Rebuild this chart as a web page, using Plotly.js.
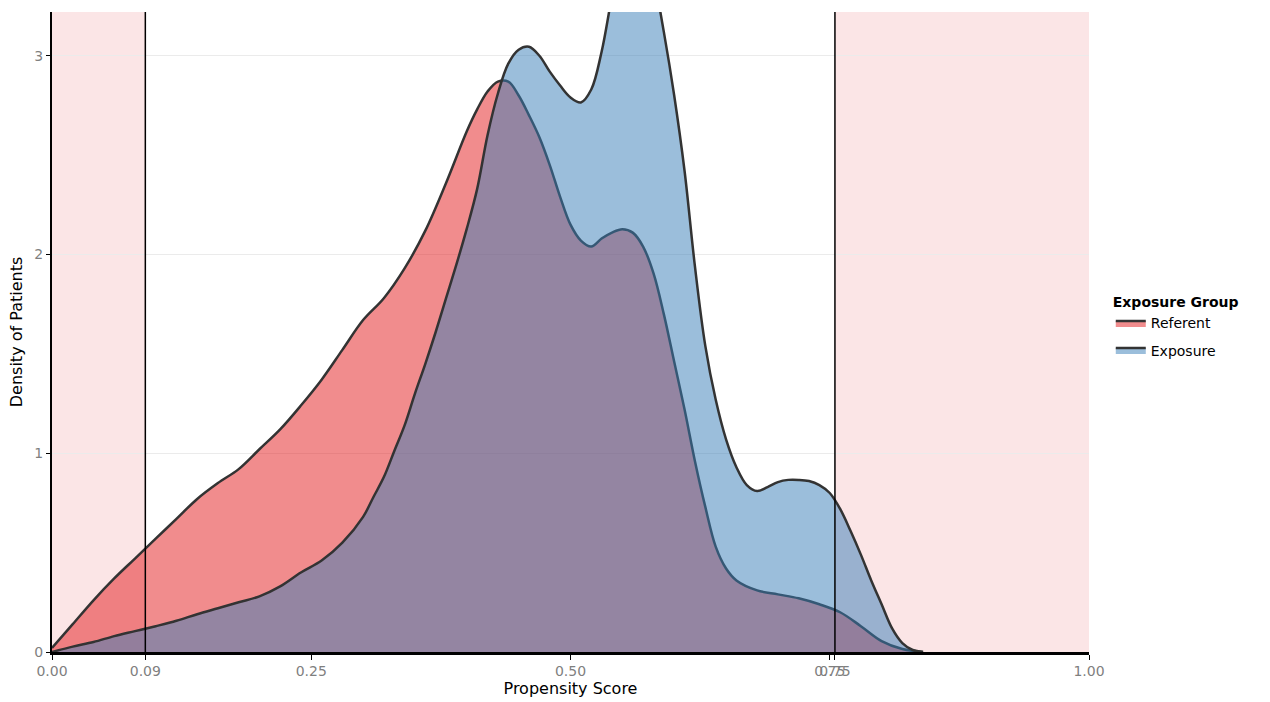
<!DOCTYPE html>
<html>
<head>
<meta charset="utf-8">
<script src="https://cdn.plot.ly/plotly-3.0.1.min.js"></script>
<style>html,body{margin:0;padding:0;background:#fff;}#chart{width:1270px;height:702px;}</style>
</head>
<body>
<div id="chart"></div>
<script>
// Referent group density
const referentX = [0, 0.02, 0.04, 0.06, 0.08, 0.10, 0.12, 0.14, 0.16, 0.18, 0.20, 0.22, 0.24, 0.26, 0.28, 0.30, 0.32, 0.34, 0.36, 0.38, 0.40, 0.41, 0.42, 0.43, 0.44, 0.45, 0.46, 0.47, 0.48, 0.49, 0.50, 0.51, 0.52, 0.53, 0.54, 0.55, 0.56, 0.57, 0.58, 0.59, 0.60, 0.61, 0.62, 0.63, 0.64, 0.65, 0.66, 0.68, 0.70, 0.72, 0.74, 0.76, 0.78, 0.80, 0.82, 0.84];
const referentY = [0.02, 0.14, 0.26, 0.37, 0.47, 0.57, 0.67, 0.77, 0.85, 0.92, 1.02, 1.12, 1.24, 1.37, 1.52, 1.67, 1.78, 1.93, 2.12, 2.36, 2.62, 2.73, 2.82, 2.87, 2.87, 2.80, 2.70, 2.59, 2.45, 2.29, 2.15, 2.07, 2.04, 2.08, 2.11, 2.127, 2.11, 2.04, 1.906, 1.70, 1.46, 1.22, 0.96, 0.73, 0.53, 0.42, 0.36, 0.31, 0.29, 0.27, 0.24, 0.20, 0.13, 0.055, 0.015, 0.0];
// Exposure group density
const exposureX = [0, 0.02, 0.04, 0.06, 0.08, 0.10, 0.12, 0.14, 0.16, 0.18, 0.20, 0.22, 0.24, 0.26, 0.28, 0.30, 0.31, 0.32, 0.33, 0.34, 0.35, 0.36, 0.37, 0.38, 0.39, 0.40, 0.41, 0.42, 0.43, 0.44, 0.45, 0.46, 0.47, 0.48, 0.49, 0.50, 0.51, 0.52, 0.53, 0.54, 0.55, 0.56, 0.57, 0.58, 0.59, 0.60, 0.61, 0.62, 0.63, 0.64, 0.65, 0.66, 0.67, 0.68, 0.69, 0.70, 0.71, 0.72, 0.73, 0.74, 0.75, 0.76, 0.77, 0.78, 0.79, 0.80, 0.81, 0.82, 0.83, 0.84];
const exposureY = [0, 0.027, 0.05, 0.08, 0.105, 0.13, 0.157, 0.19, 0.22, 0.25, 0.28, 0.33, 0.40, 0.46, 0.55, 0.68, 0.78, 0.88, 1.01, 1.14, 1.30, 1.45, 1.61, 1.78, 1.95, 2.13, 2.33, 2.60, 2.81, 2.96, 3.03, 3.045, 3.0, 2.92, 2.85, 2.79, 2.765, 2.83, 3.02, 3.3, 3.55, 3.65, 3.6, 3.4, 3.12, 2.8, 2.42, 1.94, 1.54, 1.27, 1.07, 0.93, 0.84, 0.81, 0.83, 0.855, 0.866, 0.866, 0.86, 0.84, 0.80, 0.72, 0.61, 0.49, 0.36, 0.24, 0.12, 0.045, 0.01, 0.0];

const groupNames = ["Referent", "Exposure"];
const tickVals = [0, 0.09, 0.25, 0.5, 0.75, 0.755, 1];
const tickText = ["0.00", "0.09", "0.25", "0.50", "0.75", "0.75", "1.00"];
const yTicks = [0, 1, 2, 3];
const trimLow = 0.09;
const trimHigh = 0.755;

const font = "DejaVu Sans, sans-serif";

const traces = [
  {x: referentX, y: referentY, name: groupNames[0], legendgroup: "g1", type: "scatter", mode: "lines",
   fill: "tozeroy", fillcolor: "rgba(228,26,28,0.5)",
   line: {color: "#333333", width: 2.5, shape: "spline", smoothing: 1}},
  {x: exposureX, y: exposureY, name: groupNames[1], legendgroup: "g2", type: "scatter", mode: "lines",
   fill: "tozeroy", fillcolor: "rgba(55,126,184,0.5)",
   line: {color: "#333333", width: 2.5, shape: "spline", smoothing: 1}}
];

const layout = {
  width: 1270, height: 702,
  margin: {l: 52, r: 181, t: 12, b: 50},
  paper_bgcolor: "#ffffff", plot_bgcolor: "#ffffff",
  font: {family: font, color: "#000000"},
  showlegend: true,
  legend: {
    x: 1.021, y: 0.567, xanchor: "left", yanchor: "top",
    title: {text: "<b>Exposure Group</b>", font: {size: 14, family: font, color: "#000"}},
    font: {size: 14, family: font, color: "#000"},
    tracegroupgap: 6, itemwidth: 30, bgcolor: "rgba(0,0,0,0)"
  },
  xaxis: {
    range: [0, 1], tickmode: "array", tickvals: tickVals, ticktext: tickText, tickangle: 0,
    showgrid: false, zeroline: false, showline: true, linecolor: "#000", linewidth: 2.5,
    ticks: "outside", ticklen: 5, tickcolor: "#000", tickwidth: 1,
    tickfont: {size: 14, color: "#7f7f7f", family: font},
    title: {text: "Propensity Score", font: {size: 16, family: font, color: "#000"}, standoff: 4},
    automargin: false
  },
  yaxis: {
    range: [0, 3.22], tickmode: "array", tickvals: yTicks,
    showgrid: true, gridcolor: "#ebebeb", gridwidth: 1, zeroline: false,
    showline: true, linecolor: "#000", linewidth: 2,
    ticks: "outside", ticklen: 4, tickcolor: "#000", tickwidth: 1,
    tickfont: {size: 14, color: "#7f7f7f", family: font},
    title: {text: "Density of Patients", font: {size: 16, family: font, color: "#000"}, standoff: 8},
    automargin: false
  },
  shapes: [
    {type: "rect", xref: "x", yref: "paper", x0: 0, x1: trimLow, y0: 0, y1: 1,
     fillcolor: "#fbe5e6", line: {width: 0}, layer: "below"},
    {type: "rect", xref: "x", yref: "paper", x0: trimHigh, x1: 1, y0: 0, y1: 1,
     fillcolor: "#fbe5e6", line: {width: 0}, layer: "below"},
    {type: "line", xref: "x", yref: "paper", x0: trimLow, x1: trimLow, y0: 0, y1: 1,
     line: {color: "#000", width: 1.5}, layer: "above"},
    {type: "line", xref: "x", yref: "paper", x0: trimHigh, x1: trimHigh, y0: 0, y1: 1,
     line: {color: "#000", width: 1.5}, layer: "above"}
  ]
};

Plotly.newPlot("chart", traces, layout, {displayModeBar: false, staticPlot: true});
</script>
</body>
</html>
